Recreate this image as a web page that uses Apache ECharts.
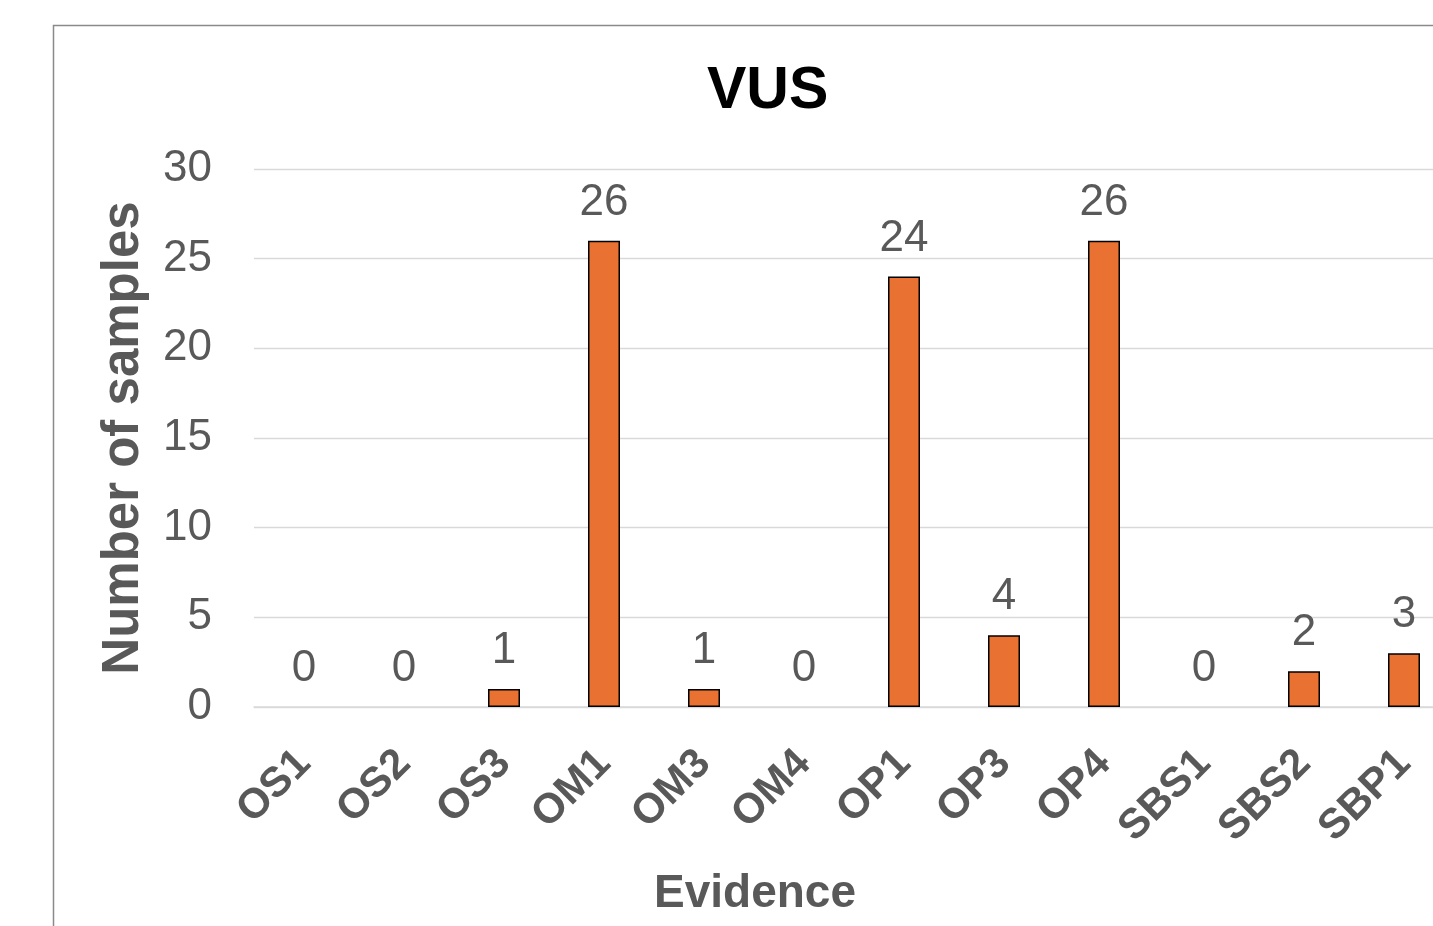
<!DOCTYPE html>
<html>
<head>
<meta charset="utf-8">
<title>VUS</title>
<script src="https://cdn.jsdelivr.net/npm/echarts@6/dist/echarts.min.js"></script>
<style>
  html, body { margin: 0; padding: 0; background: #ffffff; overflow: hidden; }
  /* the plot runs past the right edge of the window, so the canvas is wider */
  #chart { width: 1454px; height: 926px; }
</style>
</head>
<body>
<div id="chart"></div>
<script>
// Evidence codes along the x axis
const categories = ['OS1', 'OS2', 'OS3', 'OM1', 'OM3', 'OM4', 'OP1', 'OP3', 'OP4', 'SBS1', 'SBS2', 'SBP1'];
// Number of VUS samples per evidence code
const sampleCounts = [0, 0, 1, 26, 1, 0, 24, 4, 26, 0, 2, 3];
// Value axis range and step
const yMin = 0;
const yMax = 30;
const yStep = 5;

const FONT = '"Liberation Sans", Arial, Helvetica, sans-serif';
const TEXT_GREY = '#595959';
const GRID_GREY = '#d9d9d9';

// empty bars get no outline so they leave no stroke on the baseline
const barData = sampleCounts.map(v => (v === 0 ? { value: v, itemStyle: { borderWidth: 0 } } : v));

const chart = echarts.init(document.getElementById('chart'), null, { renderer: 'canvas' });

chart.setOption({
  backgroundColor: '#ffffff',
  animation: false,
  title: {
    text: 'VUS',
    left: 702,
    top: 57,
    textStyle: { fontFamily: FONT, fontSize: 59, fontWeight: 'bold', color: '#000000' }
  },
  graphic: [{
    // chart area frame
    type: 'rect',
    silent: true,
    shape: { x: 53.5, y: 25.5, width: 2000, height: 2000 },
    style: { fill: 'none', stroke: '#8a8a8a', lineWidth: 1.5 }
  }],
  grid: { left: 254, top: 169, right: 0, height: 538, containLabel: false },
  xAxis: {
    type: 'category',
    data: categories,
    name: 'Evidence',
    nameLocation: 'middle',
    nameGap: 164,
    nameTextStyle: {
      fontFamily: FONT, fontSize: 46, fontWeight: 'bold', color: TEXT_GREY,
      padding: [0, 198, 0, 0]
    },
    axisLine: { show: true, lineStyle: { color: GRID_GREY, width: 1.5 } },
    axisTick: { show: false },
    axisLabel: {
      interval: 0,
      rotate: 45,
      margin: 50,
      fontFamily: FONT, fontSize: 42, fontWeight: 'bold', color: TEXT_GREY
    }
  },
  yAxis: {
    type: 'value',
    min: yMin,
    max: yMax,
    interval: yStep,
    name: 'Number of samples',
    nameLocation: 'middle',
    nameGap: 105,
    nameTextStyle: { fontFamily: FONT, fontSize: 51, fontWeight: 'bold', color: TEXT_GREY },
    axisLine: { show: false },
    axisTick: { show: false },
    axisLabel: { margin: 42, fontFamily: FONT, fontSize: 44, color: TEXT_GREY },
    splitLine: { show: true, lineStyle: { color: GRID_GREY, width: 1.3 } }
  },
  series: [{
    type: 'bar',
    data: barData,
    barWidth: 32,
    itemStyle: { color: '#E97132', borderColor: '#000000', borderWidth: 1.5 },
    label: {
      show: true,
      position: 'top',
      distance: 16,
      fontFamily: FONT, fontSize: 44, color: TEXT_GREY
    }
  }]
});
</script>
</body>
</html>
